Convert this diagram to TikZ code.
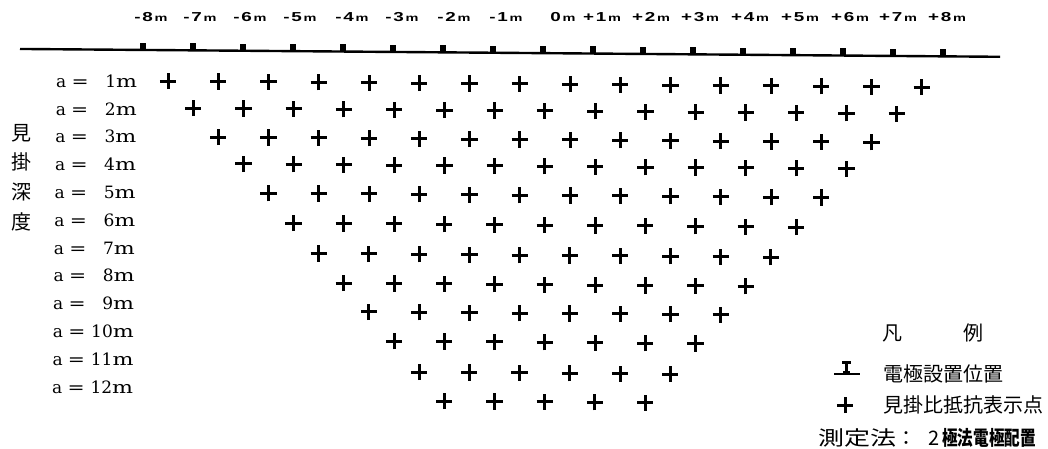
\documentclass[tikz,border=0pt]{standalone}
\usepackage{fontspec}
\usepackage{graphicx}
\usetikzlibrary{shapes.misc}
\newfontfamily\cjk{Noto Sans CJK JP}
\newfontfamily\lblsans{Liberation Sans}
\newfontfamily\rowserif{DejaVu Serif}
\newcommand\toplab[2]{\scalebox{1.45}[1]{\lblsans\bfseries\fontsize{13}{13}\selectfont #1\kern1.2pt#2\kern1.2pt{\fontsize{10}{10}\selectfont m}}}
\newcommand\rowlab[1]{\makebox[14pt][l]{a}\makebox[20pt][c]{\scalebox{1.2}[1]{=}}\makebox[26pt][r]{#1}\scalebox{1.3}[1]{m}}
\tikzset{
  ground/.style={line width=2.4pt},
  electrode/.style={rectangle, fill=black, minimum width=6.5pt, minimum height=7pt, inner sep=0pt, anchor=south},
  pluspt/.style={cross out, draw=black, line width=3pt, minimum size=8.5pt, inner sep=0pt, rotate=45},
  toplabel/.style={anchor=base, inner sep=0pt},
  rowlabel/.style={anchor=base east, inner sep=0pt, font=\rowserif\fontsize{17}{17}\selectfont},
  cjktext/.style={inner sep=0pt, font=\cjk\fontsize{20}{20}\selectfont},
}
\begin{document}
\begin{tikzpicture}[x=1pt,y=-1pt]
\useasboundingbox (0,0) rectangle (1048,449);
% ground line
\coordinate (gl) at (20,48.96);
\coordinate (gr) at (1000,56.8);
\draw[ground] (gl) -- (gr);
% electrodes
\foreach \i in {0,...,16}{
  \pgfmathsetmacro\ex{143+50*\i}
  \pgfmathsetmacro\ey{48.8+0.008*\ex}
  \node[electrode] (e\i) at (\ex,\ey) {};
}
% top labels
\foreach \lx/\sg/\d [count=\j] in {151/-/8,200/-/7,250/-/6,300/-/5,352/-/4,402/-/3,454/-/2,506/-/1,562//0,602/+/1,651/+/2,700/+/3,750/+/4,800/+/5,850/+/6,898/+/7,947/+/8}{
  \node[toplabel] (t\j) at (\lx,21.5) {\toplab{\sg}{\d}};
}
% apparent resistivity points
\foreach \n/\ry in {1/79.7,2/106.5,3/135.3,4/162,5/191,6/220.7,7/251,8/280.3,9/309,10/338,11/368.7,12/397.5}{
  \pgfmathtruncatemacro\cnt{17-\n}
  \foreach \k in {1,...,\cnt}{
    \pgfmathsetmacro\px{143+25.1*\n+50.25*(\k-1)}
    \pgfmathsetmacro\py{\ry+0.008*\px}
    \node[pluspt] (p\n-\k) at (\px,\py) {};
  }
}
% row labels
\foreach \n in {1,...,12}{
  \pgfmathsetmacro\by{87.3+27.8*(\n-1)}
  \pgfmathsetmacro\bx{137.3-4*(\n-1)/11}
  \node[rowlabel] (r\n) at (\bx,\by) {\rowlab{\n}};
}
% vertical axis title
\node[cjktext, align=center, font=\cjk\fontsize{20}{29.6}\selectfont] (axis) at (21,177.5) {見\\掛\\深\\度};
% legend
\node[cjktext] (legtitle) at (932.5,333) {凡\hspace{61pt}例};
\draw[line width=2.2pt] (834,374) -- (860,374);
\fill (842,361) rectangle (851,364);
\fill (845,361) rectangle (848,374);
\fill (843,371) rectangle (850,374);
\node[cjktext, anchor=west] (legelec) at (883,374) {電極設置位置};
\node[pluspt] (legplus) at (845,405) {};
\node[cjktext, anchor=west] (legplustxt) at (883,405) {見掛比抵抗表示点};
\node[cjktext, anchor=west] (method) at (818,438) {\scalebox{1.3}[1]{測定法}：\kern12pt 2\kern3pt\scalebox{0.78}[1]{\bfseries 極法電極配置}};
\end{tikzpicture}
\end{document}
